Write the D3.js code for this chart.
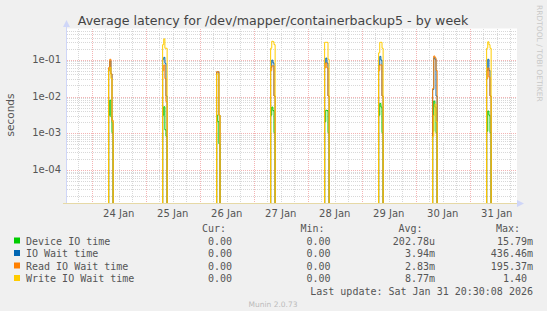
<!DOCTYPE html>
<html>
<head>
<meta charset="utf-8">
<script src="https://cdn.jsdelivr.net/npm/d3@7"></script>
<style>
  body { margin: 0; background: #f0f0f0; }
  svg { display: block; font-family: "DejaVu Sans", sans-serif; }
  .mono { font-family: "DejaVu Sans Mono", monospace; font-size: 10px; fill: #555; }
</style>
</head>
<body>
<div id="wrapper"></div>
<script>
// daily spikes, 30 minute samples starting at 07:30 each day (seconds)
const dayLabels = ["24 Jan", "25 Jan", "26 Jan", "27 Jan", "28 Jan", "29 Jan", "30 Jan", "31 Jan"] ;
const spikeStartHour = 7.5 ;
const sampleMinutes = 30 ;

const deviceIO = [
  [0.003, 0.0077, 0.0027, 0.001, 0],
  [0.003, 0.0051, 0.0012, 0.0008, 0],
  [0.003, 0.002, 0.0005, 0, 0],
  [0.003, 0.005, 0.004, 0.001, 0],
  [0.002, 0.0041, 0.004, 0.001, 0],
  [0.003, 0.0063, 0.005, 0.001, 0],
  [0.0011, 0.0073, 0.005, 0.001, 0],
  [0.0011, 0.0039, 0.003, 0.001, 0]
] ;
const ioWait = [
  [0.05, 0.09, 0.04, 0.002, 0],
  [0.1, 0.113, 0.078, 0.01, 0],
  [0.045, 0.045, 0.003, 0, 0],
  [0.06, 0.095, 0.08, 0.01, 0],
  [0.08, 0.108, 0.079, 0.01, 0],
  [0.07, 0.12, 0.095, 0.01, 0],
  [0.015, 0.11, 0.1, 0.01, 0],
  [0.05, 0.1, 0.05, 0.01, 0]
] ;
const readWait = [
  [0.06, 0.1, 0.04, 0.0022, 0],
  [0.05, 0.07, 0.03, 0.007, 0],
  [0.046, 0.046, 0.003, 0, 0],
  [0.05, 0.066, 0.066, 0.01, 0],
  [0.06, 0.08, 0.058, 0.01, 0],
  [0.05, 0.07, 0.07, 0.01, 0],
  [0.016, 0.123, 0.11, 0.05, 0],
  [0.03, 0.058, 0.033, 0.01, 0]
] ;
const writeWait = [
  [0.05, 0.06, 0.03, 0.002, 0],
  [0.25, 0.36, 0.2, 0.2, 0],
  [0.04, 0.04, 0.003, 0, 0],
  [0.2, 0.31, 0.3, 0.25, 0],
  [0.29, 0.29, 0.29, 0.1, 0],
  [0.15, 0.29, 0.29, 0.2, 0],
  [0.0008, 0.003, 0.006, 0.002, 0],
  [0.2, 0.3, 0.25, 0.2, 0]
] ;

const seriesNames = ["Device IO time", "IO Wait time", "Read IO Wait time", "Write IO Wait time"] ;
const seriesColors = ["#00cc00", "#0066b3", "#ff8000", "#ffcc00"] ;
const curVals = ["0.00", "0.00", "0.00", "0.00"] ;
const minVals = ["0.00", "0.00", "0.00", "0.00"] ;
const avgVals = ["202.78u", "3.94m", "2.83m", "8.77m"] ;
const maxVals = ["15.79m", "436.46m", "195.37m", "1.40 "] ;
const yTicks = [1e-1, 1e-2, 1e-3, 1e-4] ;

let dimensions = {
  width: 547,
  height: 311,
  margin: { top: 28.5, left: 67 },
  boundedWidth: 450,
  boundedHeight: 175
} ;

const svg = d3.select("#wrapper").append("svg")
    .attr("width", dimensions.width)
    .attr("height", dimensions.height)
;
svg.append("rect").attr("width", dimensions.width).attr("height", dimensions.height).attr("fill", "#f0f0f0") ;

const bounds = svg.append("g")
    .attr("transform", `translate(${dimensions.margin.left}, ${dimensions.margin.top})`)
;

const tStart = new Date(2026, 0, 23, 13, 0) ;
const tEnd = new Date(2026, 0, 31, 21, 0) ;

const xScale = d3.scaleTime()
  .domain([tStart, tEnd])
  .range([0, dimensions.boundedWidth])
;
const yScale = d3.scaleLog()
  .domain([1.18e-5, 0.69])
  .range([dimensions.boundedHeight, 0])
;

bounds.append("rect")
  .attr("width", dimensions.boundedWidth)
  .attr("height", dimensions.boundedHeight)
  .attr("fill", "#ffffff")
;

// grid
const grid = bounds.append("g").attr("shape-rendering", "crispEdges") ;
const minorY = [] ;
for (let e = -5; e <= -1; e++) {
  for (let m = 2; m <= 9; m++) {
    const v = m * Math.pow(10, e) ;
    if (v > yScale.domain()[0] && v < yScale.domain()[1]) minorY.push(v) ;
  }
}
const minorCol = "#d8d8d8" ;
const majorCol = "#f4b4b4" ;
grid.selectAll(".minory").data(minorY).enter().append("line")
  .attr("x1", 0).attr("x2", dimensions.boundedWidth)
  .attr("y1", (d) => Math.round(yScale(d)) + 0.5).attr("y2", (d) => Math.round(yScale(d)) + 0.5)
  .attr("stroke", minorCol).attr("stroke-dasharray", "1,1")
;
const days = d3.timeDay.range(tStart, tEnd) ;   // Jan 24 .. Jan 31
const sixHours = d3.timeHour.every(6).range(tStart, tEnd).filter((d) => d.getHours() != 0) ;
grid.selectAll(".minorx").data(sixHours).enter().append("line")
  .attr("x1", (d) => Math.round(xScale(d)) + 0.5).attr("x2", (d) => Math.round(xScale(d)) + 0.5)
  .attr("y1", 0).attr("y2", dimensions.boundedHeight)
  .attr("stroke", minorCol).attr("stroke-dasharray", "1,1")
;
grid.selectAll(".majory").data(yTicks).enter().append("line")
  .attr("x1", 0).attr("x2", dimensions.boundedWidth)
  .attr("y1", (d) => Math.round(yScale(d)) + 0.5).attr("y2", (d) => Math.round(yScale(d)) + 0.5)
  .attr("stroke", majorCol).attr("stroke-dasharray", "1,1")
;
grid.selectAll(".majorx").data(days).enter().append("line")
  .attr("x1", (d) => Math.round(xScale(d)) + 0.5).attr("x2", (d) => Math.round(xScale(d)) + 0.5)
  .attr("y1", 0).attr("y2", dimensions.boundedHeight)
  .attr("stroke", majorCol).attr("stroke-dasharray", "1,1")
;

// build the series
function buildSeries(spikes) {
  const pts = [{t: tStart, v: 0}] ;
  spikes.forEach((vals, i) => {
    const base = d3.timeMinute.offset(days[i], spikeStartHour * 60) ;
    vals.forEach((v, k) => pts.push({t: d3.timeMinute.offset(base, k * sampleMinutes), v: v})) ;
    pts.push({t: d3.timeMinute.offset(base, vals.length * sampleMinutes), v: 0}) ;
  }) ;
  pts.push({t: tEnd, v: 0}) ;
  return pts ;
}
const allSeries = [deviceIO, ioWait, readWait, writeWait].map(buildSeries) ;

const yMin = yScale.domain()[0] ;
const lineGen = d3.line()
  .x((d) => xScale(d.t))
  .y((d) => yScale(Math.max(d.v, yMin)))
  .curve(d3.curveStepAfter)
;

bounds.selectAll(".series").data(allSeries).enter().append("path")
  .attr("d", lineGen)
  .attr("fill", "none")
  .attr("stroke", (d, i) => seriesColors[i])
  .attr("stroke-width", 1)
;

// axes lines + arrows
const axisCol = "#cfd6f8" ;
svg.append("line").attr("x1", 66.5).attr("x2", 66.5).attr("y1", 25).attr("y2", 204)
  .attr("stroke", axisCol) ;
svg.append("line").attr("x1", 63).attr("x2", 518).attr("y1", 203.5).attr("y2", 203.5)
  .attr("stroke", "#e6d9a6") ;
svg.append("path").attr("d", "M63,27 L66.5,20 L70,27 Z").attr("fill", axisCol) ;
svg.append("path").attr("d", "M517,200 L524,203.5 L517,207 Z").attr("fill", axisCol) ;

// y labels
svg.selectAll(".ylab").data(yTicks).enter().append("text")
  .attr("x", 61)
  .attr("y", (d) => dimensions.margin.top + yScale(d) + 3.5)
  .attr("text-anchor", "end")
  .attr("font-size", "10px")
  .attr("fill", "#555")
  .text((d) => d3.format(".0e")(d).replace(/e-(\d)$/, "e-0$1"))
;
svg.append("text")
  .attr("transform", "translate(14, 115) rotate(-90)")
  .attr("text-anchor", "middle")
  .attr("font-size", "10.5px")
  .attr("fill", "#555")
  .text("seconds")
;

// x labels at noon of each day
svg.selectAll(".xlab").data(days).enter().append("text")
  .attr("x", (d) => dimensions.margin.left + xScale(d3.timeHour.offset(d, 12)))
  .attr("y", 216.5)
  .attr("text-anchor", "middle")
  .attr("font-size", "10px")
  .attr("fill", "#555")
  .text((d, i) => dayLabels[i])
;

// title
svg.append("text")
  .attr("x", 273).attr("y", 24.5)
  .attr("text-anchor", "middle")
  .attr("font-size", "12.6px")
  .attr("fill", "#444")
  .text("Average latency for /dev/mapper/containerbackup5 - by week")
;
svg.append("text")
  .attr("transform", "translate(536.5, 5) rotate(90)")
  .attr("font-size", "7.5px")
  .attr("fill", "#c8c8c8")
  .text("RRDTOOL / TOBI OETIKER")
;

// legend
const heads = [["Cur:", 226], ["Min:", 324.5], ["Avg:", 422.5], ["Max:", 520]] ;
heads.forEach((h) => {
  svg.append("text").attr("class", "mono").attr("x", h[1]).attr("y", 232)
    .attr("text-anchor", "end").text(h[0]) ;
}) ;
const cols = [[curVals, 232], [minVals, 330.5], [avgVals, 435], [maxVals, 533]] ;
seriesNames.forEach((name, i) => {
  const y = 244.5 + i * 12.5 ;
  svg.append("rect").attr("x", 14).attr("y", y - 7).attr("width", 6).attr("height", 6)
    .attr("fill", seriesColors[i]) ;
  svg.append("text").attr("class", "mono").attr("x", 26).attr("y", y).text(name) ;
  cols.forEach((c) => {
    svg.append("text").attr("class", "mono").attr("x", c[1]).attr("y", y)
      .attr("text-anchor", "end").style("white-space", "pre")
      .text(c[0][i]) ;
  }) ;
}) ;
svg.append("text").attr("class", "mono").attr("x", 533).attr("y", 295)
  .attr("text-anchor", "end").text("Last update: Sat Jan 31 20:30:08 2026") ;
svg.append("text")
  .attr("x", 273).attr("y", 307)
  .attr("text-anchor", "middle")
  .attr("font-size", "7.5px")
  .attr("fill", "#bbb")
  .text("Munin 2.0.73")
;
</script>
</body>
</html>
